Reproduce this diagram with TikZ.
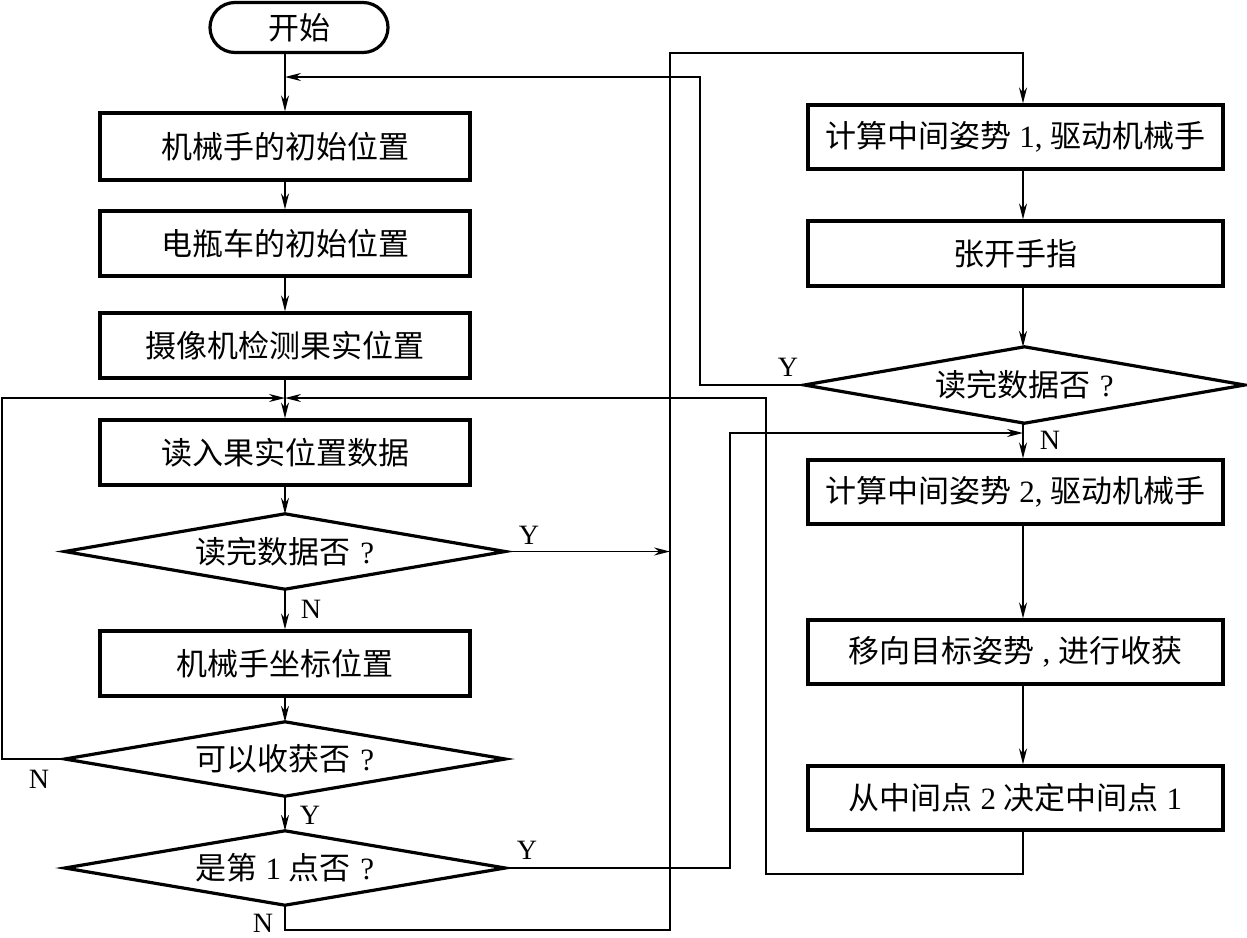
\documentclass[tikz,border=0pt]{standalone}
\usepackage{fontspec}
\setmainfont{Liberation Serif}
\newfontfamily\cjk{Noto Sans CJK SC}
\usetikzlibrary{shapes.geometric,shapes.misc,arrows.meta}
\newcommand\lat[1]{{\rmfamily#1}}
\tikzset{
  cjkfont/.style={font=\cjk\fontsize{31}{36}\selectfont},
  startbox/.style={draw, rounded rectangle, line width=3.2pt, minimum width=178pt, minimum height=50pt, inner sep=0pt, cjkfont},
  box/.style={draw, rectangle, line width=3.2pt, minimum height=65pt, inner sep=0pt, cjkfont},
  lbox/.style={box, minimum width=370pt},
  rbox/.style={box, minimum width=415pt},
  dec/.style={rectangle, minimum width=440pt, minimum height=74pt, inner sep=0pt, cjkfont},
  decline/.style={line width=3.2pt, line join=miter},
  conn/.style={line width=1.6pt},
  arr/.style={conn, -{Stealth[length=16pt,width=8pt]}},
  lab/.style={font=\fontsize{28}{30}\selectfont, inner sep=0pt}
}
\begin{document}
\begin{tikzpicture}[x=1pt,y=-1pt]
\fill[white] (0,0) rectangle (1247,937);
\useasboundingbox (0,0) rectangle (1247,937);
% left column
\node[startbox] (start) at (299,27.5) {开始};
\node[lbox, minimum height=67pt] (b1) at (285,146.5) {机械手的初始位置};
\node[lbox] (b2) at (285,243.5) {电瓶车的初始位置};
\node[lbox] (b3) at (285,345.5) {摄像机检测果实位置};
\node[lbox] (b4) at (285,452.5) {读入果实位置数据};
\node[dec, minimum height=75pt] (d1) at (285,551.5) {读完数据否\hspace{0.3em}\lat{?}};
\node[lbox] (b5) at (285,663.5) {机械手坐标位置};
\node[dec] (d2) at (285,759) {可以收获否\hspace{0.3em}\lat{?}};
\node[dec] (d3) at (285,868) {是第\lat{\ 1\ }点否\hspace{0.3em}\lat{?}};
% right column
\node[rbox, minimum height=64pt] (r1) at (1015.5,137) {计算中间姿势\lat{\ 1,\ }驱动机械手};
\node[rbox] (r2) at (1015.5,253.5) {张开手指};
\node[dec, minimum height=76pt] (dr) at (1024.5,385) {读完数据否\hspace{0.3em}\lat{?}};
\node[rbox, minimum height=64pt] (r3) at (1015.5,492) {计算中间姿势\lat{\ 2,\ }驱动机械手};
\node[rbox, minimum height=64pt] (r4) at (1015.5,652) {移向目标姿势\lat{\ ,\ }进行收获};
\node[rbox, minimum height=64pt] (r5) at (1015.5,798) {从中间点\lat{\ 2\ }决定中间点\lat{\ 1}};
% diamond outlines
\foreach \n in {d1,d2,d3,dr}
  \draw[decline] (\n.west) -- (\n.north) -- (\n.east) -- (\n.south) -- cycle;
% helper coordinates
\coordinate (m1) at (285,77);
\coordinate (m2) at (285,398);
\coordinate (p1) at (670,930);
\coordinate (p2) at (670,53);
\coordinate (q1) at (2,398);
\coordinate (s1) at (766,874);
\coordinate (t1) at (700,77);
\coordinate (u1) at (730,433);
\coordinate (rc) at (1023,0);
% main flow left
\draw[arr] (start.south -| b1.north) -- (b1.north);
\draw[arr] (b1.south) -- (b2.north);
\draw[arr] (b2.south) -- (b3.north);
\draw[arr] (b3.south) -- (b4.north);
\draw[arr] (b4.south) -- (d1.north);
\draw[arr] (d1.south) -- (b5.north);
\draw[arr] (b5.south) -- (d2.north);
\draw[arr] (d2.south) -- (d3.north);
% branches
\draw[arr] (d1.east) -- (d1.east -| p1);
\draw[arr] (d3.south) |- (p1) -- (p2) -| (r1.north -| rc);
\draw[arr] (d2.west) -| (q1) -- (m2);
\draw[arr] (d3.east) -| (u1) -- (u1 -| rc);
% right flow
\draw[arr] (r1.south -| rc) -- (r2.north -| rc);
\draw[arr] (r2.south -| rc) -- (dr.north -| rc);
\draw[arr] (dr.south -| rc) -- (r3.north -| rc);
\draw[arr] (r3.south -| rc) -- (r4.north -| rc);
\draw[arr] (r4.south -| rc) -- (r5.north -| rc);
\draw[arr] (r5.south -| rc) |- (s1) |- (m2);
\draw[arr] (dr.west) -| (t1) -- (m1);
% labels
\node[lab] (ly1) at (529,535) {Y};
\node[lab] (ln1) at (311,609) {N};
\node[lab] (ln2) at (39,779) {N};
\node[lab] (ly2) at (310,815) {Y};
\node[lab] (ly3) at (527,850) {Y};
\node[lab] (ln3) at (263,923) {N};
\node[lab] (ly4) at (788,367) {Y};
\node[lab] (ln4) at (1050,440) {N};
\end{tikzpicture}
\end{document}
